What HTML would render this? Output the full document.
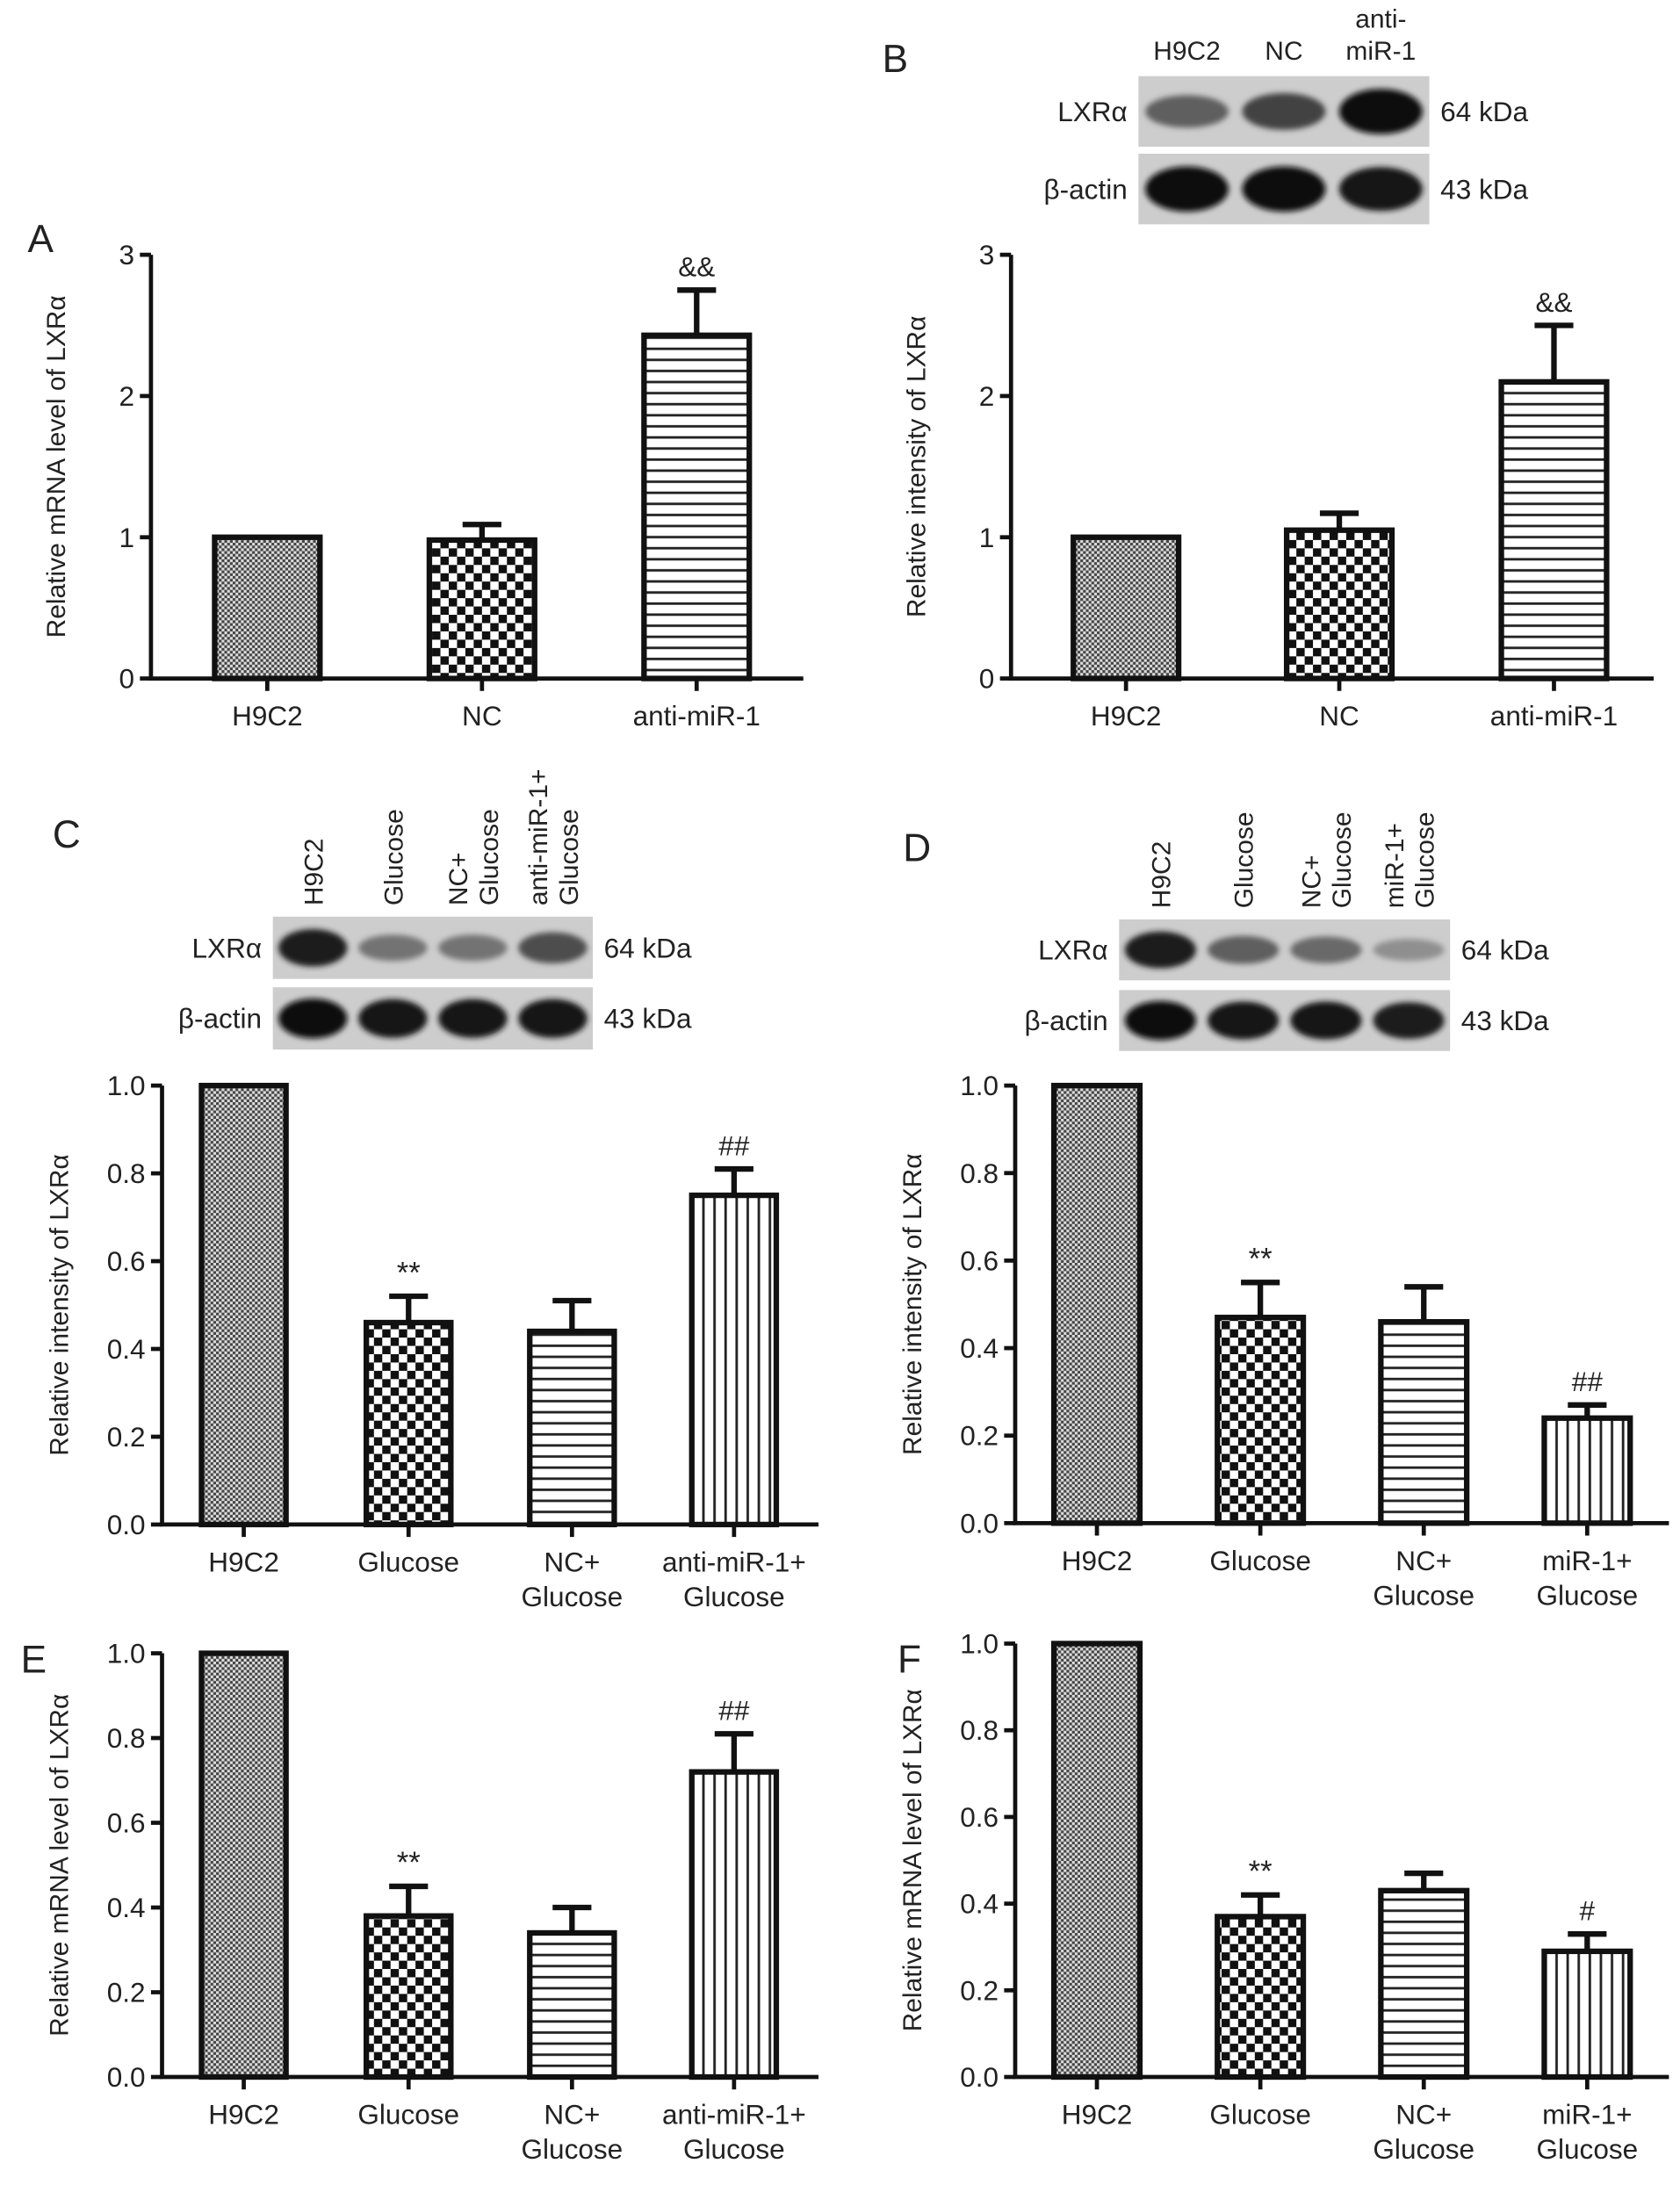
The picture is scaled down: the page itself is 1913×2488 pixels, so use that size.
<!DOCTYPE html>
<html><head><meta charset="utf-8"><style>
html,body{margin:0;padding:0;background:#fff}
svg{display:block}
text{font-family:"Liberation Sans",sans-serif;fill:#222}
</style></head><body>
<svg id="fig" width="1913" height="2488" viewBox="0 0 1213 1578" preserveAspectRatio="none" xmlns="http://www.w3.org/2000/svg">
<defs>
<pattern id="p-fine" width="4" height="4" patternUnits="userSpaceOnUse"><rect width="4" height="4" fill="#ddd"/><rect width="2" height="2" fill="#444"/><rect x="2" y="2" width="2" height="2" fill="#444"/></pattern>
<pattern id="p-check" width="12" height="12" patternUnits="userSpaceOnUse"><rect width="12" height="12" fill="#fff"/><rect width="6" height="6" fill="#111"/><rect x="6" y="6" width="6" height="6" fill="#111"/></pattern>
<pattern id="p-hor" width="8" height="8" patternUnits="userSpaceOnUse"><rect width="8" height="8" fill="#fff"/><rect y="3" width="8" height="1.8" fill="#222"/></pattern>
<pattern id="p-ver" width="8" height="8" patternUnits="userSpaceOnUse"><rect width="8" height="8" fill="#fff"/><rect x="3" width="1.8" height="8" fill="#222"/></pattern>
<filter id="blur" x="-20%" y="-50%" width="140%" height="200%"><feGaussianBlur stdDeviation="2"/></filter>
</defs>
</svg>
<script>
// ---- data ----
const catsAB = ["H9C2","NC","anti-miR-1"];
const valsA = [1, 0.98, 2.43];
const errA  = [0, 0.11, 0.32];
const valsB = [1, 1.05, 2.1];
const errB  = [0, 0.12, 0.4];
const ticksAB = ["0","1","2","3"];
const catsC = [["H9C2"],["Glucose"],["NC+","Glucose"],["anti-miR-1+","Glucose"]];
const catsD = [["H9C2"],["Glucose"],["NC+","Glucose"],["miR-1+","Glucose"]];
const valsC = [1, 0.46, 0.44, 0.75];
const errC  = [0, 0.06, 0.07, 0.06];
const valsD = [1, 0.47, 0.46, 0.24];
const errD  = [0, 0.08, 0.08, 0.03];
const valsE = [1, 0.38, 0.34, 0.72];
const errE  = [0, 0.07, 0.06, 0.09];
const valsF = [1, 0.37, 0.43, 0.29];
const errF  = [0, 0.05, 0.04, 0.04];
const ticksCF = ["0.0","0.2","0.4","0.6","0.8","1.0"];
const sigAB = ["","","&&"];
const sigC = ["","**","","##"];
const sigD = ["","**","","##"];
const sigE = ["","**","","##"];
const sigF = ["","**","","#"];
const bandsB = [[0.55,0.7,1.0],[1,1,0.95]];
const bandsC = [[0.9,0.45,0.45,0.65],[1,0.95,0.95,0.95]];
const bandsD = [[0.9,0.55,0.5,0.3],[1,0.95,0.95,0.9]];

const svg = document.getElementById('fig');
const NS = "http://www.w3.org/2000/svg";
function mk(tag, attrs, parent, txt){
  const e = document.createElementNS(NS, tag);
  for (const k in attrs) e.setAttribute(k, attrs[k]);
  if (txt !== undefined) e.textContent = txt;
  (parent||svg).appendChild(e);
  return e;
}
const fills = ["url(#p-fine)","url(#p-check)","url(#p-hor)","url(#p-ver)"];
const fillsAB = ["url(#p-fine)","url(#p-check)","url(#p-hor)"];

function panel(name, ax, y0, y1, xEnd, ymax, ticks, cats, vals, errs, sigs, centers, bw, title, fl, titleOff){
  const g = mk('g', {}, svg);
  
  
  const y = v => y0 - (v / ymax) * (y0 - y1);
  vals.forEach((v, i) => {
    const cx = centers[i];
    if (errs[i] > 0) {
      const el = mk('path', {d:`M${cx} ${y(v)} V${y(v+errs[i])} M${cx-14} ${y(v+errs[i])} H${cx+14}`, stroke:'#111','stroke-width':4,fill:'none'}, g);
      
      
    }
    const b = mk('rect', {x:cx-bw/2, y:y(v), width:bw, height:y0-y(v), fill:fl[i], stroke:'#111','stroke-width':4}, g);
    
    
    if (sigs[i]) {
      const s = mk('text', {x:cx, y:y(v+errs[i])-10, 'text-anchor':'middle','font-size':sigs[i].includes('*')?22:20, fill:sigs[i].includes('*')?'#777':'#222'}, g, sigs[i]);
      
      
    }
  });
  const axl = mk('path', {d:`M${ax} ${y1} V${y0} H${xEnd}`, stroke:'#111','stroke-width':3,fill:'none'}, g);
  
  
  ticks.forEach((t, i) => {
    const v = ymax * i / (ticks.length - 1);
    mk('line', {x1:ax-8, x2:ax, y1:y(v), y2:y(v), stroke:'#111','stroke-width':3}, g);
    const tl = mk('text', {x:ax-12, y:y(v)+7, 'text-anchor':'end','font-size':20}, g, t);
    
    
  });
  cats.forEach((c, i) => {
    mk('line', {x1:centers[i], x2:centers[i], y1:y0, y2:y0+9, stroke:'#111','stroke-width':3}, g);
    const lines = Array.isArray(c) ? c : [c];
    lines.forEach((ln, j) => {
      const tl = mk('text', {x:centers[i], y:y0+34+j*25, 'text-anchor':'middle','font-size':20}, g, ln);
      
      
    });
  });
  const cy = (y0 + y1) / 2;
  const tt = mk('text', {x:0, y:0, transform:`translate(${ax-titleOff} ${cy}) rotate(-90)`, 'text-anchor':'middle','font-size':19}, g, title);
  
  
}

function blot(name, x0, x1, yL, yA, h, bands, colLabels, rotated){
  const g = mk('g', {}, svg);
  
  
  const n = bands[0].length;
  const w = (x1 - x0) / n;
  [yL, yA].forEach((yy, r) => {
    const bx = mk('rect', {x:x0, y:yy, width:x1-x0, height:h, fill:'#cdcdcd'}, g);
    
    
    bands[r].forEach((s, i) => {
      const c = Math.round(200 - 190 * s);
      mk('ellipse', {cx:x0 + w*(i+0.5), cy:yy + h/2, rx:w*0.43, ry:h*0.12 + h*0.2*s, fill:`rgb(${c},${c},${c})`, filter:'url(#blur)'}, g);
    });
    const lb = mk('text', {x:x0-8, y:yy+h/2+7, 'text-anchor':'end','font-size':20}, g, r ? 'β-actin' : 'LXRα');
    
    
    const kd = mk('text', {x:x1+8, y:yy+h/2+7, 'font-size':20}, g, r ? '43 kDa' : '64 kDa');
    
    
  });
  colLabels.forEach((c, i) => {
    const cx = x0 + w*(i+0.5);
    if (rotated) {
      c.forEach((ln, j) => {
        const off = (j - (c.length-1)/2) * 22;
        const t = mk('text', {x:0, y:0, transform:`translate(${cx+off+7} ${yL-8}) rotate(-90)`, 'font-size':19}, g, ln);
        
        
      });
    } else {
      c.forEach((ln, j) => {
        const t = mk('text', {x:cx, y:yL-12-(c.length-1-j)*23, 'text-anchor':'middle','font-size':19}, g, ln);
        
        
      });
    }
  });
}

function letter(t, x, y){
  const e = mk('text', {x:x, y:y, 'font-size':28}, svg, t);
  
  
}

panel('panel-a-chart', 109, 490, 184, 580, 3, ticksAB, catsAB, valsA, errA, sigAB, [193,348,503], 76, 'Relative mRNA level of LXRα', fillsAB, 62);
panel('panel-b-chart', 730, 490, 184, 1194, 3, ticksAB, catsAB, valsB, errB, sigAB, [813,967,1122], 76, 'Relative intensity of LXRα', fillsAB, 62);
panel('panel-c-chart', 117, 1101, 784, 591, 1, ticksCF, catsC, valsC, errC, sigC, [176,295,413,530], 61, 'Relative intensity of LXRα', fills, 68);
panel('panel-d-chart', 733, 1100, 784, 1205, 1, ticksCF, catsD, valsD, errD, sigD, [792,910,1028,1146], 62, 'Relative intensity of LXRα', fills, 68);
panel('panel-e-chart', 117, 1500, 1194, 591, 1, ticksCF, catsC, valsE, errE, sigE, [176,295,413,530], 61, 'Relative mRNA level of LXRα', fills, 68);
panel('panel-f-chart', 733, 1500, 1187, 1205, 1, ticksCF, catsD, valsF, errF, sigF, [792,910,1028,1146], 62, 'Relative mRNA level of LXRα', fills, 68);

blot('panel-b-blot', 822, 1032, 55, 111, 51, bandsB, [["H9C2"],["NC"],["anti-","miR-1"]], false);
blot('panel-c-blot', 197, 428, 662, 713, 45, bandsC, [["H9C2"],["Glucose"],["NC+","Glucose"],["anti-miR-1+","Glucose"]], true);
blot('panel-d-blot', 808, 1047, 664, 715, 44, bandsD, [["H9C2"],["Glucose"],["NC+","Glucose"],["miR-1+","Glucose"]], true);

letter('A', 20, 182); letter('B', 637, 52); letter('C', 38, 612);
letter('D', 652, 622); letter('E', 15, 1208); letter('F', 648, 1208);
</script>
</body></html>
